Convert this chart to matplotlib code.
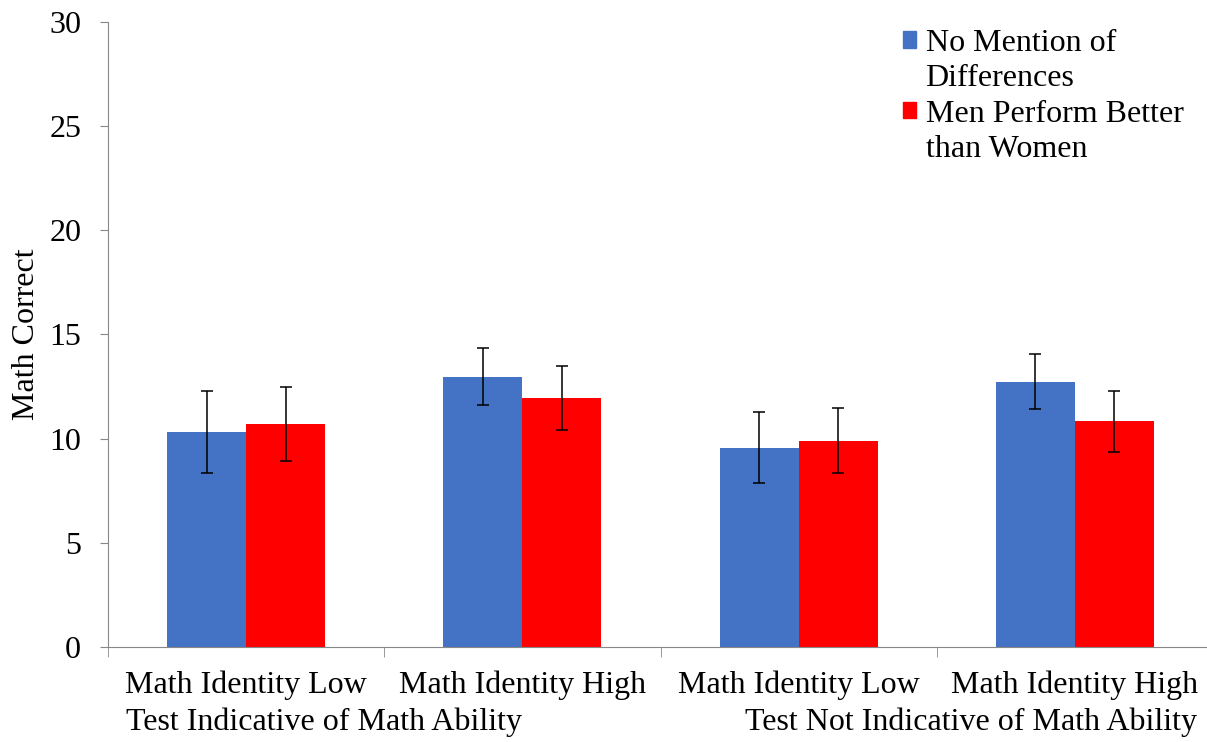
import matplotlib.pyplot as plt
import numpy as np
from matplotlib import transforms
from matplotlib.patches import Patch

# Mean number of math problems correct, by condition
groups = ["Math Identity Low", "Math Identity High", "Math Identity Low", "Math Identity High"]
no_mention = [10.32, 12.98, 9.57, 12.74]
no_mention_err = [1.95, 1.36, 1.72, 1.32]
men_better = [10.71, 11.94, 9.90, 10.83]
men_better_err = [1.79, 1.53, 1.55, 1.46]
series_names = ["No Mention of\nDifferences", "Men Perform Better\nthan Women"]
series_colors = ["#4472C4", "#FF0000"]
test_labels = ["Test Indicative of Math Ability", "Test Not Indicative of Math Ability"]
yticks = [0, 5, 10, 15, 20, 25, 30]

plt.rcParams['font.family'] = ['Liberation Serif', 'DejaVu Serif']

fig = plt.figure(figsize=(12.07, 7.42), dpi=100)
ax = fig.add_axes([0.0895, 0.128, 0.9155, 0.8424])

x = np.arange(len(groups))
w = 0.286
err_kw = dict(ecolor="black", elinewidth=1.1, capsize=4.5, capthick=1.1)
ax.bar(x - w/2, no_mention, w, yerr=no_mention_err, color=series_colors[0],
       error_kw=err_kw)
ax.bar(x + w/2, men_better, w, yerr=men_better_err, color=series_colors[1],
       error_kw=err_kw)

ax.set_xlim(-0.5, len(groups) - 0.5)
ax.set_ylim(0, 30)
ax.set_yticks(yticks)
ax.tick_params(axis="y", labelsize=23, length=5.8, color="#888888", pad=13.5)
ax.set_ylabel("Math Correct", fontsize=23, labelpad=6)

# category labels under each group, separators between groups
ax.set_xticks(x)
ax.set_xticklabels(groups, fontsize=23)
ax.tick_params(axis="x", length=0, pad=17)
ax.set_xticks(np.arange(len(groups) + 1) - 0.5, minor=True)
ax.tick_params(axis="x", which="minor", length=7, color="#888888")

for s in ["top", "right"]:
    ax.spines[s].set_visible(False)
for s in ["left", "bottom"]:
    ax.spines[s].set_color("#888888")

# second level of category labels
trans = transforms.blended_transform_factory(ax.transData, ax.transAxes)
ax.text(-0.435, -0.121, test_labels[0], transform=trans, fontsize=23,
        ha="left", va="center")
ax.text(3.442, -0.121, test_labels[1], transform=trans, fontsize=23,
        ha="right", va="center")

# legend: square only beside the first line of each entry
handles, labels = [], []
for name, c in zip(series_names, series_colors):
    first, second = name.split("\n")
    handles += [Patch(color=c), Patch(color="none")]
    labels += [first, second]
ax.legend(handles, labels, loc="upper left", bbox_to_anchor=(0.693, 1.035),
          frameon=False, fontsize=23, handlelength=0.42, handleheight=0.42,
          handletextpad=0.3, labelspacing=0.2)

fig.savefig("out.png", dpi=100)
